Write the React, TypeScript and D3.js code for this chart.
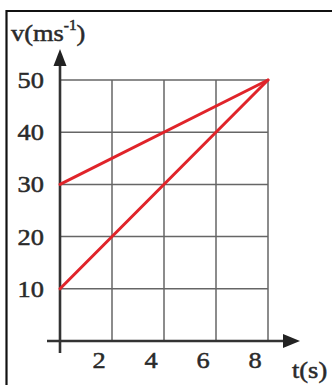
import React from "react";
import * as d3 from "d3";

const xTicks = [2, 4, 6, 8];
const yTicks = [10, 20, 30, 40, 50];
const gridX = [2, 4, 6, 8];
const gridY = [10, 20, 30, 40, 50];
const lineA = [
  { t: 0, v: 30 },
  { t: 8, v: 50 },
];
const lineB = [
  { t: 0, v: 10 },
  { t: 8, v: 50 },
];

export default function App() {
  const W = 332;
  const H = 385;
  const x = d3.scaleLinear().domain([0, 8]).range([60, 268]);
  const y = d3.scaleLinear().domain([0, 50]).range([341, 80]);
  const line = d3
    .line<{ t: number; v: number }>()
    .x((d) => x(d.t))
    .y((d) => y(d.v));
  const font = "'Liberation Serif', 'Times New Roman', serif";
  const txt = "#2a2a2a";
  const sx = 1.1;
  const fs = 24;
  const thick = { stroke: txt, strokeWidth: 0.5 };
  return (
    <svg
      width={W}
      height={H}
      style={{ position: "absolute", left: 0, top: 0, background: "#fff" }}
    >
      {/* frame */}
      <line x1={6.5} y1={11} x2={W} y2={11} stroke="#111" strokeWidth={2.2} />
      <line x1={6.5} y1={10} x2={6.5} y2={H} stroke="#111" strokeWidth={2.2} />
      {/* grid */}
      {gridX.map((t) => (
        <line key={"gx" + t} x1={x(t)} x2={x(t)} y1={y(50)} y2={y(0)} stroke="#666" strokeWidth={1.5} />
      ))}
      {gridY.map((v) => (
        <line key={"gy" + v} x1={x(0)} x2={x(8)} y1={y(v)} y2={y(v)} stroke="#666" strokeWidth={1.5} />
      ))}
      {/* axes */}
      <line x1={47} x2={286} y1={y(0)} y2={y(0)} stroke="#333" strokeWidth={2.6} />
      <path d={`M300,${y(0)} L283,${y(0) - 7} L283,${y(0) + 7} Z`} fill="#222" />
      <line x1={x(0)} x2={x(0)} y1={64} y2={353} stroke="#333" strokeWidth={2.6} />
      <path d={`M${x(0)},49 L${x(0) - 6.5},66 L${x(0) + 6.5},66 Z`} fill="#222" />
      {/* data lines */}
      <path d={line(lineA) || ""} fill="none" stroke="#e0242a" strokeWidth={3} strokeLinecap="round" />
      <path d={line(lineB) || ""} fill="none" stroke="#e0242a" strokeWidth={3} strokeLinecap="round" />
      {/* y tick labels */}
      {yTicks.map((v) => (
        <text
          key={"yt" + v}
          transform={`translate(44,${y(v) + 8}) scale(${sx},1)`}
          textAnchor="end"
          fontFamily={font}
          fontSize={fs}
          fill={txt}
          {...thick}
        >
          {v}
        </text>
      ))}
      {/* x tick labels */}
      {xTicks.map((t) => (
        <text
          key={"xt" + t}
          transform={`translate(${x(t) - 13},368) scale(${sx},1)`}
          textAnchor="middle"
          fontFamily={font}
          fontSize={fs}
          fill={txt}
          {...thick}
        >
          {t}
        </text>
      ))}
      {/* axis titles */}
      <text transform={`translate(11,41) scale(${sx},1)`} fontFamily={font} fontSize={fs} fill={txt} {...thick}>
        v(ms
        <tspan fontSize={14} dy={-11}>-1</tspan>
        <tspan dy={11}>)</tspan>
      </text>
      <text transform={`translate(292,378) scale(${sx},1)`} fontFamily={font} fontSize={fs} fill={txt} {...thick}>
        t(s)
      </text>
    </svg>
  );
}
